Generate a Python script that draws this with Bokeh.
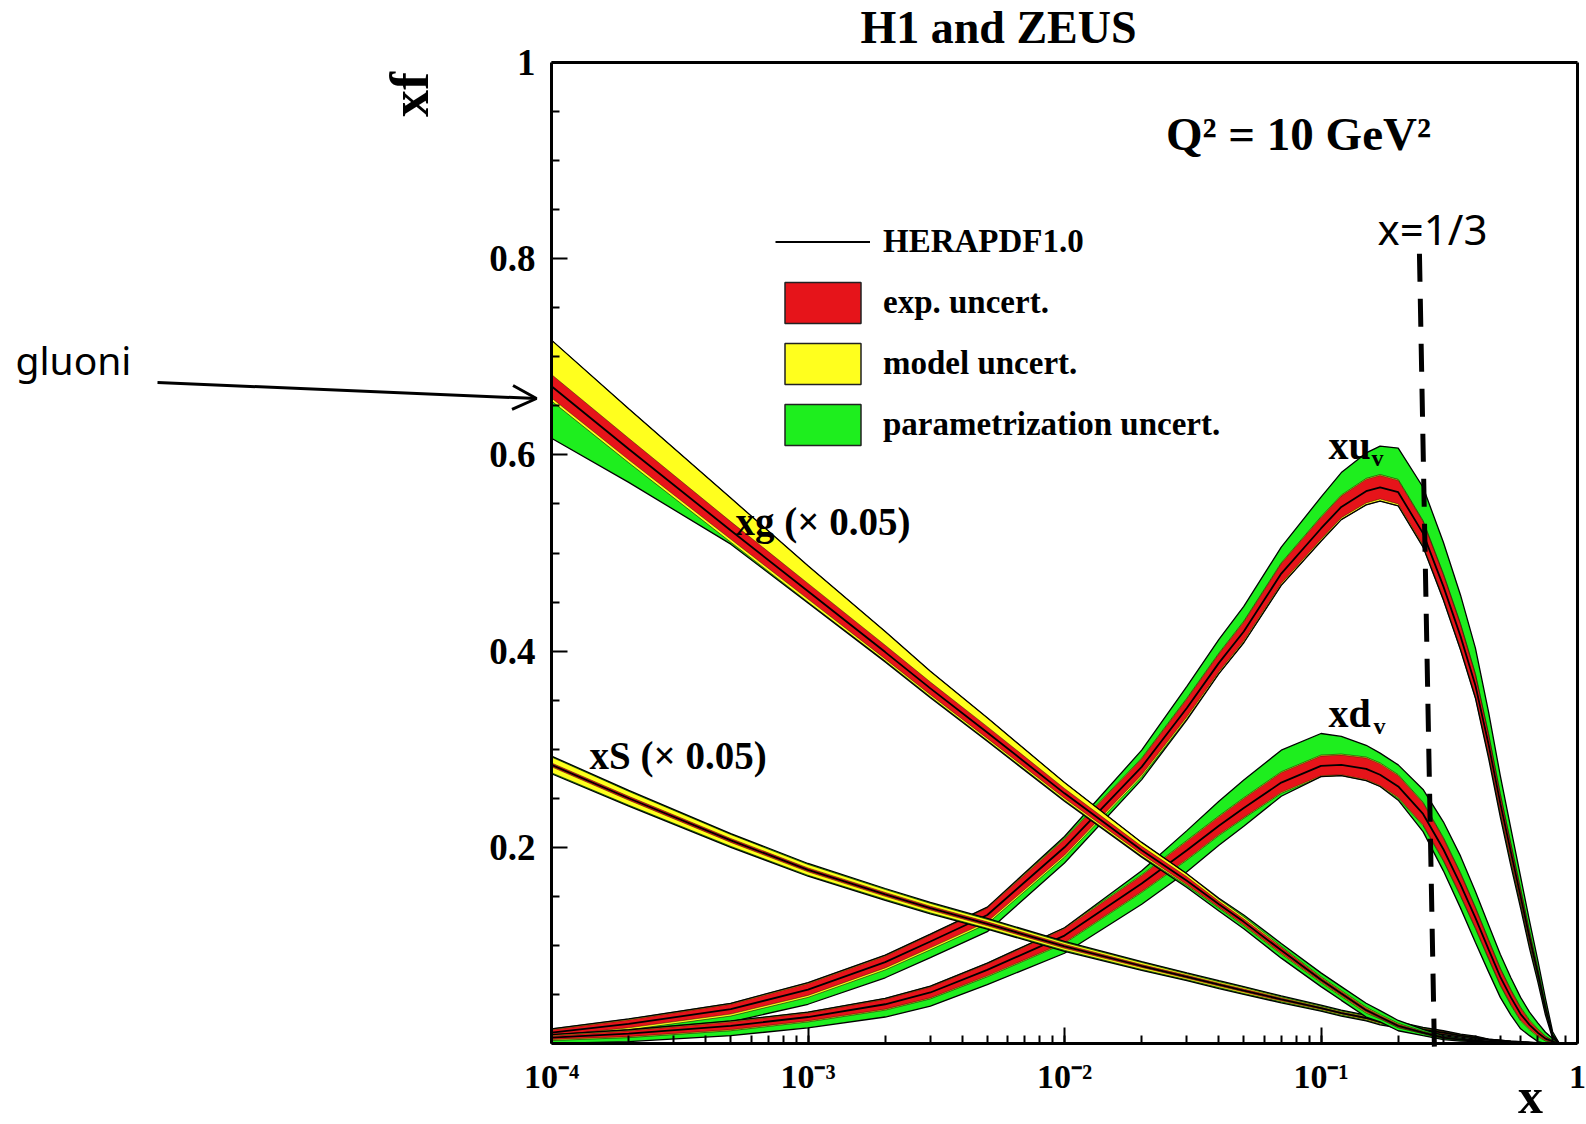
import numpy as np
from bokeh.plotting import figure
from bokeh.models import (Label, Arrow, OpenHead, Legend, LegendItem, FixedTicker,
                          CustomJSTickFormatter, LogTicker, LogAxis, LinearAxis)
from bokeh.embed import file_html
from bokeh.resources import INLINE

# ---------------- data ----------------
X = [0.0001, 0.0002, 0.0005, 0.001, 0.002, 0.003, 0.005, 0.01,
     0.02, 0.03, 0.04, 0.05, 0.07, 0.1, 0.12, 0.15,
     0.17, 0.2, 0.25, 0.3, 0.35, 0.4, 0.45, 0.5,
     0.55, 0.6, 0.65, 0.7, 0.75, 0.8, 0.85, 0.9]

# valence up: central, exp half width, model extra (up/down), parametrization extra (up/down)
xuv_c  = [0.011, 0.020, 0.035, 0.055, 0.083, 0.104, 0.131, 0.200,
          0.282, 0.342, 0.388, 0.420, 0.479, 0.525, 0.547, 0.563,
          0.567, 0.562, 0.520, 0.466, 0.415, 0.365, 0.305, 0.245,
          0.195, 0.150, 0.108, 0.072, 0.036, 0.008, 0.0, 0.0]
xuv_e  = [0.003, 0.004, 0.005, 0.006, 0.006, 0.0065, 0.007, 0.008,
          0.008, 0.009, 0.009, 0.0095, 0.010, 0.011, 0.011, 0.012,
          0.012, 0.012, 0.012, 0.012, 0.012, 0.011, 0.010, 0.009,
          0.008, 0.007, 0.006, 0.004, 0.003, 0.001, 0.0, 0.0]
xuv_mu = [0.001, 0.001, 0.001, 0.001, 0.001, 0.001, 0.001, 0.001,
          0.001, 0.001, 0.001, 0.001, 0.001, 0.001, 0.001, 0.001,
          0.001, 0.001, 0.001, 0.001, 0.001, 0.001, 0.001, 0.001,
          0.001, 0.001, 0.001, 0.001, 0.001, 0.0, 0.0, 0.0]
xuv_md = [0.002, 0.002, 0.002, 0.002, 0.002, 0.002, 0.002, 0.002,
          0.002, 0.002, 0.002, 0.002, 0.002, 0.002, 0.002, 0.002,
          0.002, 0.002, 0.002, 0.002, 0.002, 0.002, 0.002, 0.002,
          0.002, 0.001, 0.001, 0.001, 0.001, 0.0, 0.0, 0.0]
xuv_pu = [0.0, 0.0, 0.0, 0.0, 0.0, 0.0, 0.0, 0.002,
          0.008, 0.012, 0.014, 0.015, 0.016, 0.020, 0.023, 0.026,
          0.029, 0.032, 0.034, 0.032, 0.029, 0.026, 0.022, 0.018,
          0.015, 0.012, 0.010, 0.008, 0.006, 0.003, 0.0, 0.0]
xuv_pd = [0.004, 0.005, 0.006, 0.007, 0.008, 0.008, 0.008, 0.006,
          0.003, 0.001, 0.0, 0.0, 0.0, 0.0, 0.0, 0.0,
          0.0, 0.0, 0.0, 0.0, 0.0, 0.0, 0.002, 0.003,
          0.004, 0.004, 0.004, 0.004, 0.003, 0.002, 0.0, 0.0]

# valence down
xdv_c  = [0.006, 0.010, 0.018, 0.027, 0.040, 0.052, 0.075, 0.110,
          0.163, 0.197, 0.222, 0.240, 0.266, 0.283, 0.284, 0.280,
          0.274, 0.262, 0.234, 0.198, 0.162, 0.128, 0.096, 0.068,
          0.047, 0.030, 0.019, 0.011, 0.005, 0.002, 0.0, 0.0]
xdv_e  = [0.002, 0.003, 0.004, 0.004, 0.005, 0.0055, 0.006, 0.007,
          0.008, 0.009, 0.009, 0.0095, 0.010, 0.010, 0.010, 0.011,
          0.011, 0.011, 0.011, 0.011, 0.011, 0.010, 0.009, 0.008,
          0.007, 0.006, 0.004, 0.003, 0.002, 0.001, 0.0, 0.0]
xdv_mu = [0.001, 0.001, 0.001, 0.001, 0.001, 0.001, 0.001, 0.001,
          0.001, 0.001, 0.001, 0.001, 0.001, 0.001, 0.001, 0.001,
          0.001, 0.001, 0.001, 0.001, 0.001, 0.001, 0.001, 0.001,
          0.001, 0.001, 0.001, 0.001, 0.0005, 0.0, 0.0, 0.0]
xdv_md = [0.001, 0.001, 0.001, 0.001, 0.001, 0.001, 0.001, 0.001,
          0.001, 0.001, 0.001, 0.001, 0.001, 0.001, 0.001, 0.001,
          0.001, 0.001, 0.001, 0.001, 0.001, 0.001, 0.001, 0.001,
          0.001, 0.001, 0.001, 0.001, 0.0005, 0.0, 0.0, 0.0]
xdv_pu = [0.0, 0.0, 0.0, 0.0, 0.0, 0.0, 0.0, 0.0,
          0.004, 0.010, 0.015, 0.018, 0.022, 0.022, 0.018, 0.012,
          0.010, 0.010, 0.013, 0.016, 0.017, 0.016, 0.015, 0.014,
          0.012, 0.010, 0.008, 0.006, 0.004, 0.002, 0.0, 0.0]
xdv_pd = [0.003, 0.004, 0.005, 0.006, 0.007, 0.0075, 0.008, 0.010,
          0.012, 0.012, 0.010, 0.008, 0.003, 0.0, 0.0, 0.0,
          0.0, 0.002, 0.006, 0.010, 0.012, 0.014, 0.013, 0.012,
          0.010, 0.008, 0.006, 0.005, 0.003, 0.002, 0.0, 0.0]

# gluon (x 0.05)
xg_c  = [0.670, 0.606, 0.523, 0.461, 0.399, 0.362, 0.317, 0.255,
         0.197, 0.166, 0.142, 0.124, 0.095, 0.065, 0.051, 0.034,
         0.027, 0.018, 0.011, 0.006, 0.004, 0.003, 0.002, 0.001,
         0.0007, 0.0005, 0.0003, 0.0, 0.0, 0.0, 0.0, 0.0]
xg_e  = [0.012, 0.011, 0.009, 0.008, 0.007, 0.0065, 0.006, 0.005,
         0.004, 0.004, 0.003, 0.003, 0.003, 0.002, 0.002, 0.002,
         0.0015, 0.0015, 0.001, 0.001, 0.0005, 0.0005, 0.0, 0.0,
         0.0, 0.0, 0.0, 0.0, 0.0, 0.0, 0.0, 0.0]
xg_mu = [0.035, 0.030, 0.024, 0.018, 0.014, 0.011, 0.009, 0.006,
         0.004, 0.003, 0.002, 0.002, 0.001, 0.001, 0.001, 0.001,
         0.001, 0.001, 0.0005, 0.0, 0.0, 0.0, 0.0, 0.0,
         0.0, 0.0, 0.0, 0.0, 0.0, 0.0, 0.0, 0.0]
xg_md = [0.003, 0.003, 0.003, 0.003, 0.002, 0.002, 0.002, 0.002,
         0.002, 0.001, 0.001, 0.001, 0.001, 0.001, 0.001, 0.001,
         0.0005, 0.0005, 0.0, 0.0, 0.0, 0.0, 0.0, 0.0,
         0.0, 0.0, 0.0, 0.0, 0.0, 0.0, 0.0, 0.0]
xg_pu = [0.0, 0.0, 0.0, 0.0, 0.0, 0.0, 0.0, 0.0,
         0.0, 0.0, 0.001, 0.002, 0.003, 0.004, 0.004, 0.004,
         0.004, 0.003, 0.002, 0.001, 0.001, 0.0, 0.0, 0.0,
         0.0, 0.0, 0.0, 0.0, 0.0, 0.0, 0.0, 0.0]
xg_pd = [0.038, 0.020, 0.002, 0.001, 0.001, 0.001, 0.001, 0.001,
         0.001, 0.002, 0.003, 0.003, 0.004, 0.004, 0.004, 0.004,
         0.003, 0.003, 0.002, 0.001, 0.001, 0.0005, 0.0, 0.0,
         0.0, 0.0, 0.0, 0.0, 0.0, 0.0, 0.0, 0.0]

# sea (x 0.05)
xS_c  = [0.284, 0.250, 0.207, 0.177, 0.152, 0.138, 0.122, 0.099,
         0.079, 0.068, 0.060, 0.054, 0.045, 0.036, 0.031, 0.026,
         0.022, 0.019, 0.014, 0.011, 0.008, 0.006, 0.004, 0.003,
         0.002, 0.0015, 0.001, 0.0005, 0.0, 0.0, 0.0, 0.0]
xS_e  = [0.002, 0.002, 0.002, 0.002, 0.002, 0.002, 0.002, 0.002,
         0.0015, 0.0015, 0.0015, 0.0015, 0.0015, 0.001, 0.001, 0.001,
         0.001, 0.001, 0.001, 0.001, 0.0005, 0.0005, 0.0005, 0.0005,
         0.0005, 0.0005, 0.0, 0.0, 0.0, 0.0, 0.0, 0.0]
xS_mu = [0.006, 0.005, 0.004, 0.0035, 0.003, 0.0028, 0.0025, 0.002,
         0.002, 0.0015, 0.0015, 0.0015, 0.001, 0.001, 0.001, 0.001,
         0.001, 0.001, 0.0005, 0.0005, 0.0005, 0.0005, 0.0, 0.0,
         0.0, 0.0, 0.0, 0.0, 0.0, 0.0, 0.0, 0.0]
xS_md = [0.006, 0.005, 0.004, 0.0035, 0.003, 0.0028, 0.0025, 0.002,
         0.002, 0.0015, 0.0015, 0.0015, 0.001, 0.001, 0.001, 0.001,
         0.001, 0.001, 0.0005, 0.0005, 0.0005, 0.0005, 0.0, 0.0,
         0.0, 0.0, 0.0, 0.0, 0.0, 0.0, 0.0, 0.0]
xS_pu = [0.001, 0.001, 0.001, 0.001, 0.001, 0.001, 0.001, 0.001,
         0.001, 0.001, 0.001, 0.001, 0.001, 0.001, 0.001, 0.001,
         0.001, 0.001, 0.001, 0.0005, 0.0005, 0.0005, 0.0, 0.0,
         0.0, 0.0, 0.0, 0.0, 0.0, 0.0, 0.0, 0.0]
xS_pd = [0.001, 0.001, 0.001, 0.001, 0.001, 0.001, 0.001, 0.001,
         0.001, 0.001, 0.001, 0.001, 0.001, 0.001, 0.001, 0.001,
         0.001, 0.001, 0.001, 0.0005, 0.0005, 0.0005, 0.0, 0.0,
         0.0, 0.0, 0.0, 0.0, 0.0, 0.0, 0.0, 0.0]

Y_TICKS = [0.2, 0.4, 0.6, 0.8, 1.0]
Y_MINOR = [0.05, 0.1, 0.15, 0.25, 0.3, 0.35, 0.45, 0.5, 0.55, 0.65, 0.7, 0.75, 0.85, 0.9, 0.95]

# hand drawn dashed marker line (x = 1/3)
VLINE_X = [0.242, 0.277]
VLINE_Y = [0.805, -0.009]

LEGEND_LABELS = ["HERAPDF1.0", "exp. uncert.", "model uncert.", "parametrization uncert."]

RED = "#e6141a"
YELLOW = "#ffff1e"
GREEN = "#1eee1e"
SERIF = "Liberation Serif"
SANS = "Noto Sans"

# ---------------- layout: frame covers the whole canvas ----------------
W, H = 1586, 1124
PX_X0, PX_DEC = 551.0, 256.5      # pixel of x=1e-4, pixels per decade
PX_Y1, PX_UNIT = 62.0, 981.0      # pixel of y=1, pixels per unit


def px2x(px):
    return 10 ** (-4 + (px - PX_X0) / PX_DEC)


def px2y(py):
    return 1 - (py - PX_Y1) / PX_UNIT


p = figure(width=W, height=H, x_axis_type="log",
           x_range=(px2x(0), px2x(W)), y_range=(px2y(H), px2y(0)),
           output_backend="svg", toolbar_location=None, title=None,
           min_border_left=0, min_border_right=0, min_border_top=0, min_border_bottom=0)
p.grid.visible = False
p.background_fill_color = "white"
p.border_fill_color = "white"
p.outline_line_color = None

xa = p.xaxis[0]
xa.fixed_location = 0.0
xa.bounds = (1e-4, 1.0)
xa.ticker = LogTicker(num_minor_ticks=10)
xa.formatter = CustomJSTickFormatter(code="""
const e = Math.round(Math.log10(tick));
if (e === 0) { return "1"; }
const sup = {"-": "\u207b", "0": "\u2070", "1": "\u00b9", "2": "\u00b2", "3": "\u00b3",
             "4": "\u2074", "5": "\u2075", "6": "\u2076", "7": "\u2077", "8": "\u2078", "9": "\u2079"};
return "10" + String(e).split("").map(c => sup[c]).join("");
""")
ya = p.yaxis[0]
ya.fixed_location = 1e-4
ya.bounds = (0.0, 1.0)
ya.ticker = FixedTicker(ticks=Y_TICKS, minor_ticks=Y_MINOR)
ya.formatter = CustomJSTickFormatter(code="""
return (tick > 0.999) ? "1" : tick.toFixed(1);
""")

top = LogAxis(fixed_location=1.0, bounds=(1e-4, 1.0), ticker=FixedTicker(ticks=[]))
right = LinearAxis(fixed_location=1.0, bounds=(0.0, 1.0), ticker=FixedTicker(ticks=[]))
p.add_layout(top, "above")
p.add_layout(right, "right")

for ax in (xa, ya, top, right):
    ax.axis_line_width = 3
    ax.axis_line_color = "black"
    ax.major_tick_in = 16
    ax.major_tick_out = 0
    ax.minor_tick_in = 8
    ax.minor_tick_out = 0
    ax.major_tick_line_width = 2
    ax.minor_tick_line_width = 2
    ax.major_label_text_font = SERIF
    ax.major_label_text_font_style = "bold"
    ax.major_label_text_font_size = "34px"
    ax.major_label_text_color = "black"
ya.major_label_text_font_size = "37px"
ya.major_label_standoff = 16
xa.major_label_standoff = 14


def draw_pdf(c, e, mu, md, pu, pd):
    c = np.array(c); e = np.array(e)
    mu = np.array(mu); md = np.array(md); pu = np.array(pu); pd = np.array(pd)
    exp_lo = np.maximum(c - e, 0); exp_hi = c + e
    mod_lo = np.maximum(c - e - md, 0); mod_hi = c + e + mu
    tot_lo = np.maximum(c - e - md - pd, 0); tot_hi = c + e + mu + pu
    p.varea(x=X, y1=tot_lo, y2=tot_hi, fill_color=GREEN)
    p.varea(x=X, y1=mod_lo, y2=mod_hi, fill_color=YELLOW)
    p.varea(x=X, y1=exp_lo, y2=exp_hi, fill_color=RED)
    for arr, w, a in ((tot_lo, 1.3, 1.0), (tot_hi, 1.3, 1.0), (mod_lo, 0.8, 0.7), (mod_hi, 0.8, 0.7),
                      (exp_lo, 0.8, 0.5), (exp_hi, 0.8, 0.5)):
        p.line(X, arr, line_color="black", line_width=w, line_alpha=a)
    p.line(X, c, line_color="black", line_width=1.8)


draw_pdf(xuv_c, xuv_e, xuv_mu, xuv_md, xuv_pu, xuv_pd)
draw_pdf(xdv_c, xdv_e, xdv_mu, xdv_md, xdv_pu, xdv_pd)
draw_pdf(xS_c, xS_e, xS_mu, xS_md, xS_pu, xS_pd)
draw_pdf(xg_c, xg_e, xg_mu, xg_md, xg_pu, xg_pd)

# ---------------- legend (proxy renderers with no visible data) ----------------
nan = [float("nan")]
r_line = p.line(nan, nan, line_color="black", line_width=2)
r_red = p.quad(left=nan, right=nan, top=nan, bottom=nan, fill_color=RED, line_color="#222222", line_width=1.5)
r_yel = p.quad(left=nan, right=nan, top=nan, bottom=nan, fill_color=YELLOW, line_color="#222222", line_width=1.5)
r_grn = p.quad(left=nan, right=nan, top=nan, bottom=nan, fill_color=GREEN, line_color="#222222", line_width=1.5)
legend = Legend(items=[LegendItem(label=LEGEND_LABELS[0], renderers=[r_line]),
                       LegendItem(label=LEGEND_LABELS[1], renderers=[r_red]),
                       LegendItem(label=LEGEND_LABELS[2], renderers=[r_yel]),
                       LegendItem(label=LEGEND_LABELS[3], renderers=[r_grn])],
                location=(775, H - 450), glyph_width=95, glyph_height=51, spacing=10,
                padding=0, margin=0, border_line_color=None, background_fill_alpha=0,
                label_standoff=13, label_text_font=SERIF, label_text_font_style="bold",
                label_text_font_size="33px", label_text_color="black")
p.add_layout(legend)


# ---------------- texts ----------------
def lab(px, py, text, size, font=SERIF, style="bold", align="left", baseline="middle", angle=0.0):
    p.add_layout(Label(x=px2x(px), y=px2y(py), text=text, text_font=font, text_font_style=style,
                       text_font_size=size, text_align=align, text_baseline=baseline,
                       text_color="black", angle=angle))


lab(998, 27, "H1 and ZEUS", "46px", align="center")
lab(409, 94, "xf", "54px", align="center", angle=np.pi / 2)
lab(1530, 1123, "x", "50px", align="center", baseline="bottom")
lab(1298, 133, "Q\u00b2 = 10 GeV\u00b2", "47px", align="center")
lab(735, 521, "xg (\u00d7 0.05)", "39px")
lab(589, 755, "xS (\u00d7 0.05)", "39px")
lab(1328, 445, "xu", "40px")
lab(1371, 457, "v", "24px")
lab(1328, 713, "xd", "40px")
lab(1373, 725, "v", "24px")
lab(1432, 228, "x=1/3", "42px", font=SANS, style="normal", align="center")
lab(15, 359, "gluoni", "39px", font=SANS, style="normal")

p.add_layout(Arrow(end=None, x_start=VLINE_X[0], y_start=VLINE_Y[0], x_end=VLINE_X[1], y_end=VLINE_Y[1],
                   line_width=5, line_color="black", line_dash="28 17"))
p.add_layout(Arrow(end=OpenHead(size=24, line_width=3, line_color="black"),
                   x_start=px2x(157), y_start=px2y(382), x_end=px2x(536), y_end=px2y(398),
                   line_width=3, line_color="black"))

open("out.html", "w").write(file_html(p, INLINE))
